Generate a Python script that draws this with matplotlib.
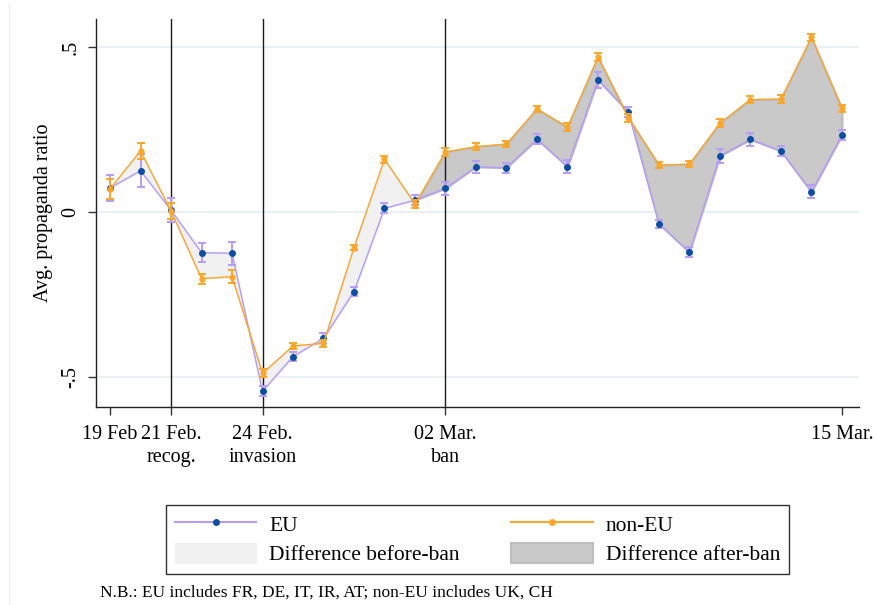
import numpy as np
import matplotlib
matplotlib.use("Agg")
import matplotlib.pyplot as plt
from matplotlib.lines import Line2D
from matplotlib.patches import Patch

plt.rcParams['font.family'] = ['Liberation Serif', 'DejaVu Serif']

# days since 19 Feb 2022
days = list(range(25))
eu = [0.073, 0.125, 0.006, -0.123, -0.125, -0.543, -0.438, -0.383, -0.241, 0.011,
      0.036, 0.072, 0.137, 0.134, 0.221, 0.137, 0.400, 0.303, -0.036, -0.122,
      0.170, 0.220, 0.185, 0.061, 0.233]
non_eu = [0.070, 0.185, 0.003, -0.202, -0.196, -0.489, -0.406, -0.398, -0.108, 0.160,
          0.024, 0.182, 0.198, 0.206, 0.312, 0.257, 0.469, 0.285, 0.142, 0.145,
          0.269, 0.341, 0.342, 0.529, 0.314]
eu_err = [0.040, 0.050, 0.035, 0.030, 0.035, 0.015, 0.015, 0.015, 0.015, 0.015,
          0.015, 0.020, 0.018, 0.015, 0.015, 0.020, 0.025, 0.015, 0.012, 0.015,
          0.020, 0.020, 0.015, 0.020, 0.016]
non_eu_err = [0.030, 0.025, 0.025, 0.015, 0.020, 0.012, 0.008, 0.010, 0.008, 0.010,
              0.012, 0.012, 0.010, 0.010, 0.010, 0.012, 0.012, 0.012, 0.010, 0.010,
              0.012, 0.012, 0.012, 0.012, 0.010]

ban_day = 10  # last day before the ban (01 Mar)
event_days = [2, 5, 11]
tick_days = [0, 2, 5, 11, 24]
tick_labels = ['19 Feb', '21 Feb.\nrecog.', '24 Feb.\ninvasion', '02 Mar.\nban', '15 Mar.']

EU_COL = '#B69CFA'
EU_DOT = '#0B4EA2'
NEU_COL = '#F9A62B'

d = np.array(days)
eu_a = np.array(eu)
ne_a = np.array(non_eu)
pre = d <= ban_day
post = d >= ban_day

fig = plt.figure(figsize=(8.78, 6.05), dpi=100)
ax = fig.add_axes([96/878, 1-407/605, (859-96)/878, (407-19)/605])

for yv in [-0.5, 0, 0.5]:
    ax.axhline(yv, color='#EAF0F3', lw=1.5, zorder=0)

ax.fill_between(d[pre], eu_a[pre], ne_a[pre], facecolor='#F1F1F1',
                edgecolor='#E8E8E8', lw=1, zorder=1)
ax.fill_between(d[post], eu_a[post], ne_a[post], facecolor='#C9C9C9',
                edgecolor='#BDBDBD', lw=1.5, zorder=1)

for ev in event_days:
    ax.axvline(ev, color='#1a1a1a', lw=1, zorder=2)

ax.errorbar(d, eu_a, yerr=eu_err, color=EU_COL, lw=1, elinewidth=1.4, capsize=3,
            capthick=1.4, marker='o', ms=4, mfc=EU_DOT, mec=EU_DOT, zorder=3)
ax.errorbar(d, ne_a, yerr=non_eu_err, color=NEU_COL, lw=1, elinewidth=1.4, capsize=3,
            capthick=1.4, marker='o', ms=3.5, mfc=NEU_COL, mec=NEU_COL, zorder=4)

ax.set_xlim(-0.46, 24.56)
ax.set_ylim(-0.591, 0.585)
ax.set_xticks(tick_days)
ax.set_xticklabels(tick_labels, fontsize=14.5, linespacing=1.25)
ax.set_yticks([-0.5, 0, 0.5])
ax.set_yticklabels(['-.5', '0', '.5'], fontsize=14.5, rotation=90, va='center')
ax.set_ylabel('Avg. propaganda ratio', fontsize=14.5, labelpad=6)
ax.tick_params(axis='both', length=6, width=1, color='#333333', pad=5)
ax.tick_params(axis='x', pad=7)
for s in ['top', 'right']:
    ax.spines[s].set_visible(False)
for s in ['left', 'bottom']:
    ax.spines[s].set_color('#222222')
    ax.spines[s].set_linewidth(1)

handles = [
    Line2D([], [], color=EU_COL, lw=1.5, marker='o', ms=4, mfc=EU_DOT, mec=EU_DOT),
    Patch(facecolor='#F1F1F1', edgecolor='#F1F1F1'),
    Line2D([], [], color=NEU_COL, lw=1.5, marker='o', ms=4, mfc=NEU_COL, mec=NEU_COL),
    Patch(facecolor='#C9C9C9', edgecolor='#BDBDBD', lw=1.5),
]
labels = ['EU', 'Difference before-ban', 'non-EU', 'Difference after-ban']
leg = fig.legend(handles, labels, ncol=2, loc='center', mode='expand',
                 bbox_to_anchor=(166/878, 1-575/605, (789-166)/878, (575-504)/605),
                 fontsize=15.5, frameon=True, fancybox=False, edgecolor='black',
                 handlelength=3.8, handleheight=1.0, handletextpad=0.6,
                 labelspacing=0.35, borderpad=0.4, borderaxespad=0)
leg.get_frame().set_linewidth(1)

fig.text(100/878, 1-593/605, 'N.B.: EU includes FR, DE, IT, IR, AT; non-EU includes UK, CH',
         fontsize=12.5, va='center', ha='left')

fig.add_artist(Line2D([9.5/878, 9.5/878], [0, 1-3/605], color='#EEF1F2', lw=1))

fig.savefig('out.png', dpi=100)
